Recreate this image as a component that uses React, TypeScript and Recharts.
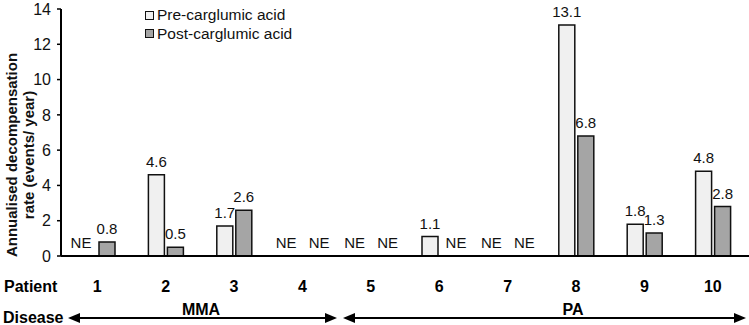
import React from 'react';
import { BarChart, Bar, XAxis, YAxis, LabelList } from 'recharts';

const patients = ['1', '2', '3', '4', '5', '6', '7', '8', '9', '10'];
// null = NE (not evaluable)
const preCarglumic: (number | null)[] = [null, 4.6, 1.7, null, null, 1.1, null, 13.1, 1.8, 4.8];
const postCarglumic: (number | null)[] = [0.8, 0.5, 2.6, null, null, null, null, 6.8, 1.3, 2.8];
const yTicks = [0, 2, 4, 6, 8, 10, 12, 14];
const seriesNames = ['Pre-carglumic acid', 'Post-carglumic acid'];
const diseaseNames = ['MMA', 'PA'];

const FONT = 'Arial, "Liberation Sans", sans-serif';
const PRE_FILL = '#f0f0f0';
const POST_FILL = '#a5a5a5';

const fmt = (v: number | null) => (v == null ? 'NE' : v.toFixed(1));

const data = patients.map((p, i) => ({
  patient: p,
  pre: preCarglumic[i] ?? 0,
  post: postCarglumic[i] ?? 0,
  preLabel: fmt(preCarglumic[i]),
  postLabel: fmt(postCarglumic[i]),
}));

// keeps zero (NE) entries so their labels still get drawn; the sliver is hidden by the axis line
const keepZero = (v: number) => (v === 0 ? 0.01 : 0);

// NE labels sit a little outward from the bar slot, like the original
const valueLabel = (neShift: number) => (props: any) => {
  const { x, y, width, value } = props;
  const cx = Number(x) + Number(width) / 2 + (value === 'NE' ? neShift : 0);
  return (
    <text x={cx} y={Number(y) - 8} textAnchor="middle" fontSize={15} fontFamily={FONT} fill="#111">
      {value}
    </text>
  );
};

const PatientTick = (props: any) => {
  const { x, y, payload } = props;
  return (
    <text x={x} y={y + 36} textAnchor="middle" fontSize={16} fontWeight="bold" fontFamily={FONT} fill="#000">
      {payload.value}
    </text>
  );
};

function Arrow({ x1, x2, y }: { x1: number; x2: number; y: number }) {
  return (
    <g>
      <line x1={x1 + 10} x2={x2 - 10} y1={y} y2={y} stroke="#000" strokeWidth={2} />
      <polygon points={`${x1},${y} ${x1 + 12},${y - 5} ${x1 + 12},${y + 5}`} fill="#000" />
      <polygon points={`${x2},${y} ${x2 - 12},${y - 5} ${x2 - 12},${y + 5}`} fill="#000" />
    </g>
  );
}

export default function App() {
  return (
    <div style={{ position: 'absolute', left: 0, top: 0, width: 749, height: 325, background: '#fff' }}>
      <BarChart
        width={749}
        height={325}
        data={data}
        margin={{ top: 9, right: 0, bottom: 0, left: 0 }}
        barSize={16}
        barGap={3}
      >
        <XAxis
          dataKey="patient"
          height={69}
          tickLine={false}
          tickSize={0}
          tickMargin={0}
          axisLine={{ stroke: '#000', strokeWidth: 2 }}
          padding={{ left: 2, right: 2 }}
          tick={<PatientTick />}
          interval={0}
        />
        <YAxis
          width={61}
          domain={[0, 14]}
          ticks={yTicks}
          allowDataOverflow
          axisLine={{ stroke: '#000', strokeWidth: 2 }}
          tickLine={{ stroke: '#000', strokeWidth: 1.5 }}
          tickSize={4}
          tickMargin={6}
          tick={{ fontSize: 16, fill: '#111', fontFamily: FONT }}
        />
        <Bar dataKey="pre" fill={PRE_FILL} stroke="#111" strokeWidth={1.5} minPointSize={keepZero} isAnimationActive={false}>
          <LabelList dataKey="preLabel" content={valueLabel(-7)} />
        </Bar>
        <Bar dataKey="post" fill={POST_FILL} stroke="#111" strokeWidth={1.5} minPointSize={keepZero} isAnimationActive={false}>
          <LabelList dataKey="postLabel" content={valueLabel(7)} />
        </Bar>
      </BarChart>
      <div
        style={{
          position: 'absolute',
          left: 145,
          top: 6,
          fontFamily: FONT,
          fontSize: 15.5,
          color: '#111',
          lineHeight: '18.5px',
        }}
      >
        {seriesNames.map((n, i) => (
          <div key={n} style={{ display: 'flex', alignItems: 'center' }}>
            <span
              style={{
                display: 'inline-block',
                width: 7,
                height: 7,
                border: '1.5px solid #111',
                background: i === 0 ? PRE_FILL : POST_FILL,
                marginRight: 3,
              }}
            />
            {n}
          </div>
        ))}
      </div>
      <svg
        width={749}
        height={325}
        style={{ position: 'absolute', left: 0, top: 0, pointerEvents: 'none' }}
        fontFamily={FONT}
      >
        <g transform="translate(17,155) rotate(-90)">
          <text x={0} y={0} textAnchor="middle" fontSize={15} fontWeight="bold" fill="#111">
            Annualised decompensation
          </text>
          <text x={0} y={17} textAnchor="middle" fontSize={15} fontWeight="bold" fill="#111">
            rate (events/ year)
          </text>
        </g>
        <text x={4} y={292} fontSize={16} fontWeight="bold" fill="#000">Patient</text>
        <text x={3} y={323} fontSize={16} fontWeight="bold" fill="#000">Disease</text>
        <text x={201} y={315} textAnchor="middle" fontSize={16} fontWeight="bold" fill="#000">{diseaseNames[0]}</text>
        <text x={573} y={315} textAnchor="middle" fontSize={16} fontWeight="bold" fill="#000">{diseaseNames[1]}</text>
        <Arrow x1={68} x2={337} y={318} />
        <Arrow x1={343} x2={746} y={318} />
      </svg>
    </div>
  );
}
